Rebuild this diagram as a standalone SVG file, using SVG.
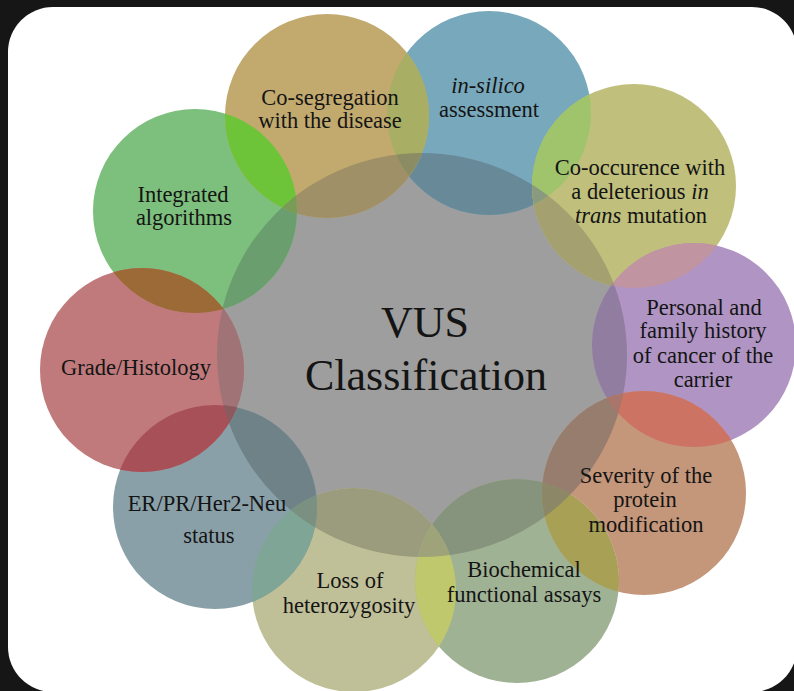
<svg xmlns="http://www.w3.org/2000/svg" width="794" height="691" viewBox="0 0 794 691">
<style>
.t{font-family:"Liberation Serif","Times New Roman",serif;font-size:22.5px;fill:#141414;text-anchor:middle}
.big{font-size:44px}
.i{font-style:italic}
</style>
<defs>
<clipPath id="kG"><ellipse cx="422" cy="355" rx="205" ry="202"/></clipPath>
<clipPath id="kGreen"><circle cx="195" cy="211" r="102"/></clipPath>
<clipPath id="kTan"><circle cx="327" cy="116" r="102"/></clipPath>
<clipPath id="kBlue"><circle cx="489" cy="113" r="102"/></clipPath>
<clipPath id="kOlive"><circle cx="634" cy="186" r="102"/></clipPath>
<clipPath id="kPurple"><circle cx="694" cy="345" r="102"/></clipPath>
<clipPath id="kSalmon"><circle cx="644" cy="493" r="102"/></clipPath>
<clipPath id="kSage"><circle cx="517" cy="581" r="102"/></clipPath>
<clipPath id="kPale"><circle cx="354" cy="590" r="102"/></clipPath>
<clipPath id="kSlate"><circle cx="215" cy="507" r="102"/></clipPath>
<clipPath id="kRed"><circle cx="142" cy="370" r="102"/></clipPath>
<mask id="mNoSage" maskUnits="userSpaceOnUse" x="0" y="0" width="794" height="691">
<rect x="0" y="0" width="794" height="691" fill="#fff"/>
<circle cx="517" cy="581" r="102" fill="#000"/>
</mask>
</defs>
<rect x="0" y="0" width="794" height="691" fill="#161616"/>
<rect x="8" y="7" width="789" height="685" rx="45" ry="45" fill="#ffffff"/>

<g id="node-vus">
<ellipse cx="422" cy="355" rx="205" ry="202" fill="#9e9e9e"/>
<text class="t big" x="425" y="337">VUS</text>
<text class="t big" x="426" y="390">Classification</text>
</g>

<g id="node-integrated">
<circle cx="195" cy="211" r="102" fill="#7dbf7d"/>
<circle cx="195" cy="211" r="102" fill="#6a9e6e" clip-path="url(#kG)"/>
<text class="t" x="183" y="202">Integrated</text>
<text class="t" x="184" y="225">algorithms</text>
</g>

<g id="node-insilico">
<circle cx="489" cy="113" r="102" fill="#78a8bc"/>
<circle cx="489" cy="113" r="102" fill="#688a98" clip-path="url(#kG)"/>
<text class="t i" x="488" y="93">in-silico</text>
<text class="t" x="489" y="117">assessment</text>
</g>

<g id="node-cosegregation">
<circle cx="327" cy="116" r="102" fill="#c2aa6e"/>
<circle cx="327" cy="116" r="102" fill="#a09068" clip-path="url(#kG)"/>
<circle cx="327" cy="116" r="102" fill="#6ec438" clip-path="url(#kGreen)"/>
<circle cx="327" cy="116" r="102" fill="#a8af64" clip-path="url(#kBlue)"/>
<g clip-path="url(#kG)"><circle cx="327" cy="116" r="102" fill="#7a9a58" clip-path="url(#kGreen)"/></g>
<g clip-path="url(#kG)"><circle cx="327" cy="116" r="102" fill="#8c8c64" clip-path="url(#kBlue)"/></g>
<text class="t" x="330" y="105">Co-segregation</text>
<text class="t" x="330" y="128">with the disease</text>
</g>

<g id="node-cooccurrence">
<circle cx="634" cy="186" r="102" fill="#c0c07c"/>
<circle cx="634" cy="186" r="102" fill="#a4a070" clip-path="url(#kG)"/>
<circle cx="634" cy="186" r="102" fill="#a0c46c" clip-path="url(#kBlue)"/>
<g clip-path="url(#kG)"><circle cx="634" cy="186" r="102" fill="#8a9a7e" clip-path="url(#kBlue)"/></g>
<text class="t" x="640" y="175">Co-occurence with</text>
<text class="t" x="640" y="199">a deleterious <tspan class="i">in</tspan></text>
<text class="t" x="641" y="223"><tspan class="i">trans</tspan> mutation</text>
</g>

<g id="node-personal">
<circle cx="694" cy="345" r="102" fill="#b094c4"/>
<circle cx="694" cy="345" r="102" fill="#917da0" clip-path="url(#kG)"/>
<circle cx="694" cy="345" r="102" fill="#c094a0" clip-path="url(#kOlive)"/>
<g clip-path="url(#kG)"><circle cx="694" cy="345" r="102" fill="#a08a90" clip-path="url(#kOlive)"/></g>
<text class="t" x="704" y="315">Personal and</text>
<text class="t" x="703" y="338">family history</text>
<text class="t" x="703" y="363">of cancer of the</text>
<text class="t" x="703" y="387">carrier</text>
</g>

<g id="node-loss">
<circle cx="354" cy="590" r="102" fill="#c0c098"/>
<circle cx="354" cy="590" r="102" fill="#9b9b7d" clip-path="url(#kG)"/>
<text class="t" x="350" y="588">Loss of</text>
<text class="t" x="349" y="613">heterozygosity</text>
</g>

<g id="node-biochemical">
<circle cx="517" cy="581" r="102" fill="#a0b294"/>
<circle cx="517" cy="581" r="102" fill="#87947d" clip-path="url(#kG)"/>
<circle cx="517" cy="581" r="102" fill="#c0c86e" clip-path="url(#kPale)"/>
<circle cx="517" cy="581" r="102" fill="#a8a055" clip-path="url(#kSalmon)"/>
<g clip-path="url(#kG)"><circle cx="517" cy="581" r="102" fill="#9ea37a" clip-path="url(#kPale)"/></g>
<g clip-path="url(#kG)"><circle cx="517" cy="581" r="102" fill="#8c8766" clip-path="url(#kSalmon)"/></g>
<text class="t" x="524" y="577">Biochemical</text>
<text class="t" x="524" y="602">functional assays</text>
</g>

<g id="node-severity">
<g mask="url(#mNoSage)">
<circle cx="644" cy="493" r="102" fill="#c4967a"/>
<circle cx="644" cy="493" r="102" fill="#967d6e" clip-path="url(#kG)"/>
<circle cx="644" cy="493" r="102" fill="#cd7364" clip-path="url(#kPurple)"/>
<g clip-path="url(#kG)"><circle cx="644" cy="493" r="102" fill="#a8766a" clip-path="url(#kPurple)"/></g>
</g>
<text class="t" x="646" y="483">Severity of the</text>
<text class="t" x="645" y="507">protein</text>
<text class="t" x="646" y="532">modification</text>
</g>

<g id="node-receptor">
<circle cx="215" cy="507" r="102" fill="#8aa0a8"/>
<circle cx="215" cy="507" r="102" fill="#6e8288" clip-path="url(#kG)"/>
<circle cx="215" cy="507" r="102" fill="#7ea596" clip-path="url(#kPale)"/>
<g clip-path="url(#kG)"><circle cx="215" cy="507" r="102" fill="#7a9080" clip-path="url(#kPale)"/></g>
<text class="t" x="207" y="511">ER/PR/Her2-Neu</text>
<text class="t" x="209" y="543">status</text>
</g>

<g id="node-grade">
<circle cx="142" cy="370" r="102" fill="#c07a7c"/>
<circle cx="142" cy="370" r="102" fill="#a07376" clip-path="url(#kG)"/>
<circle cx="142" cy="370" r="102" fill="#a85058" clip-path="url(#kSlate)"/>
<circle cx="142" cy="370" r="102" fill="#9b6a37" clip-path="url(#kGreen)"/>
<g clip-path="url(#kG)"><circle cx="142" cy="370" r="102" fill="#8a5a5e" clip-path="url(#kSlate)"/></g>
<g clip-path="url(#kG)"><circle cx="142" cy="370" r="102" fill="#7e6a4a" clip-path="url(#kGreen)"/></g>
<text class="t" x="136" y="375">Grade/Histology</text>
</g>

<g id="connectors"></g>
</svg>
